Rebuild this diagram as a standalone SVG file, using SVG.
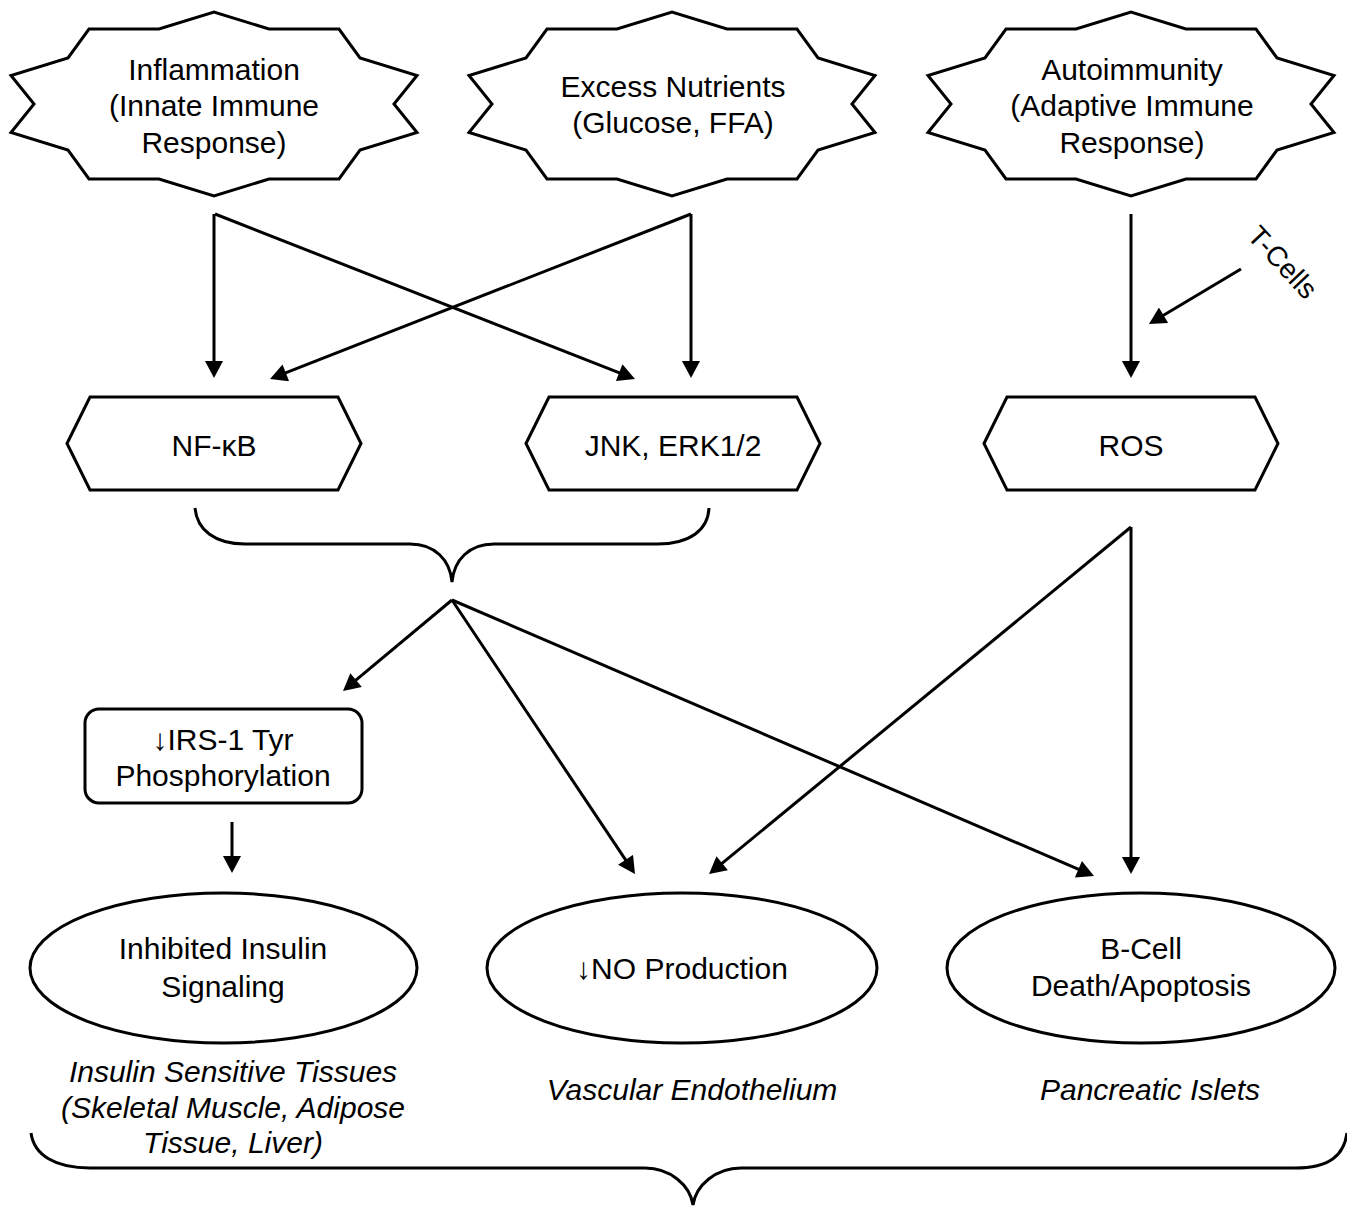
<svg xmlns="http://www.w3.org/2000/svg" xmlns:xlink="http://www.w3.org/1999/xlink" width="1347" height="1207" viewBox="0 0 1347 1207">
<style>
.shape{fill:#fff;stroke:#000;stroke-width:3;stroke-linejoin:miter}
.oval{fill:#fff;stroke:#000;stroke-width:3}
.lbl{font-family:"Liberation Sans",Arial,sans-serif;font-size:30px;fill:#000;text-anchor:middle}
.it{font-style:italic}
.conn{stroke:#000;stroke-width:3;fill:none;marker-end:url(#ah)}
.brace{stroke:#000;stroke-width:3;fill:none}
</style>
<defs>
<marker id="ah" markerUnits="userSpaceOnUse" markerWidth="18" markerHeight="18" viewBox="0 0 17 18" refX="1" refY="9" orient="auto">
<path d="M0,0 L17,9 L0,18 Z" fill="#000"/>
</marker>
<polygon id="star" points="-125,-75 -55,-75 0,-92 55,-75 125,-75 146,-46 203,-28.5 180,0 203,28.5 146,46 125,75 55,75 0,92 -55,75 -125,75 -146,46 -203,28.5 -180,0 -203,-28.5 -146,-46"/>
<polygon id="hex" points="-147,0 -124,-46.5 124,-46.5 147,0 124,46.5 -124,46.5"/>
</defs>
<rect width="1347" height="1207" fill="#fff"/>

<g id="inflammation">
<use xlink:href="#star" href="#star" x="214" y="104" class="shape"/>
<text class="lbl" x="214" y="80">Inflammation</text>
<text class="lbl" x="214" y="116">(Innate Immune</text>
<text class="lbl" x="214" y="153">Response)</text>
</g>
<g id="nutrients">
<use xlink:href="#star" href="#star" x="672" y="104" class="shape"/>
<text class="lbl" x="673" y="97">Excess Nutrients</text>
<text class="lbl" x="673" y="133">(Glucose, FFA)</text>
</g>
<g id="autoimmunity">
<use xlink:href="#star" href="#star" x="1131" y="104" class="shape"/>
<text class="lbl" x="1132" y="80">Autoimmunity</text>
<text class="lbl" x="1132" y="116">(Adaptive Immune</text>
<text class="lbl" x="1132" y="153">Response)</text>
</g>

<g id="nfkb">
<use xlink:href="#hex" href="#hex" x="214" y="443.5" class="shape"/>
<text class="lbl" x="214" y="456">NF-κB</text>
</g>
<g id="jnk">
<use xlink:href="#hex" href="#hex" x="673" y="443.5" class="shape"/>
<text class="lbl" x="673" y="456">JNK, ERK1/2</text>
</g>
<g id="ros">
<use xlink:href="#hex" href="#hex" x="1131" y="443.5" class="shape"/>
<text class="lbl" x="1131" y="456">ROS</text>
</g>

<g id="irs">
<rect x="85" y="709" width="277" height="94" rx="14" ry="14" class="shape"/>
<text class="lbl" x="223" y="750">↓IRS-1 Tyr</text>
<text class="lbl" x="223" y="786">Phosphorylation</text>
</g>

<g id="insulin-signaling">
<ellipse cx="223.5" cy="968" rx="193.5" ry="75" class="oval"/>
<text class="lbl" x="223" y="959">Inhibited Insulin</text>
<text class="lbl" x="223" y="997">Signaling</text>
</g>
<g id="no-production">
<ellipse cx="682" cy="968" rx="195" ry="75" class="oval"/>
<text class="lbl" x="682" y="979">↓NO Production</text>
</g>
<g id="bcell">
<ellipse cx="1141" cy="968" rx="194" ry="75" class="oval"/>
<text class="lbl" x="1141" y="959">B-Cell</text>
<text class="lbl" x="1141" y="996">Death/Apoptosis</text>
</g>

<g id="tissue-labels">
<text class="lbl it" x="233" y="1082">Insulin Sensitive Tissues</text>
<text class="lbl it" x="233" y="1118">(Skeletal Muscle, Adipose</text>
<text class="lbl it" x="233" y="1153">Tissue, Liver)</text>
<text class="lbl it" x="692" y="1100">Vascular Endothelium</text>
<text class="lbl it" x="1150" y="1100">Pancreatic Islets</text>
</g>

<g id="tcells-label">
<text class="lbl" font-size="28" style="font-size:28px" transform="translate(1283,262) rotate(47)" x="0" y="10">T-Cells</text>
</g>

<g id="connectors">
<line class="conn" x1="214" y1="214" x2="214" y2="362"/>
<line class="conn" x1="215" y1="214" x2="620.1" y2="373.1"/>
<line class="conn" x1="691" y1="214" x2="691" y2="362"/>
<line class="conn" x1="691" y1="214" x2="284.9" y2="373.2"/>
<line class="conn" x1="1131" y1="214" x2="1131" y2="362"/>
<line class="conn" x1="1241" y1="269" x2="1162.7" y2="315.8"/>
<line class="conn" x1="452" y1="600" x2="355.3" y2="680.7"/>
<line class="conn" x1="452" y1="600" x2="626.1" y2="860.7"/>
<line class="conn" x1="452" y1="600" x2="1079.3" y2="869.7"/>
<line class="conn" x1="1131" y1="527" x2="721.4" y2="863.9"/>
<line class="conn" x1="1131" y1="527" x2="1131" y2="858"/>
<line class="conn" x1="232" y1="822" x2="232" y2="857"/>
<path class="brace" d="M195,508 C197,530 215,544 245,544 L410,544 C435,544 450,560 452,582 C454,560 469,544 494,544 L657,544 C690,544 708,530 709,508"/>
<path class="brace" d="M31,1133 C34,1155 55,1168 90,1168 L645,1168 C670,1168 690,1185 693,1205 C696,1185 716,1168 741,1168 L1295,1168 C1330,1168 1344,1155 1347,1133"/>
</g>
</svg>
